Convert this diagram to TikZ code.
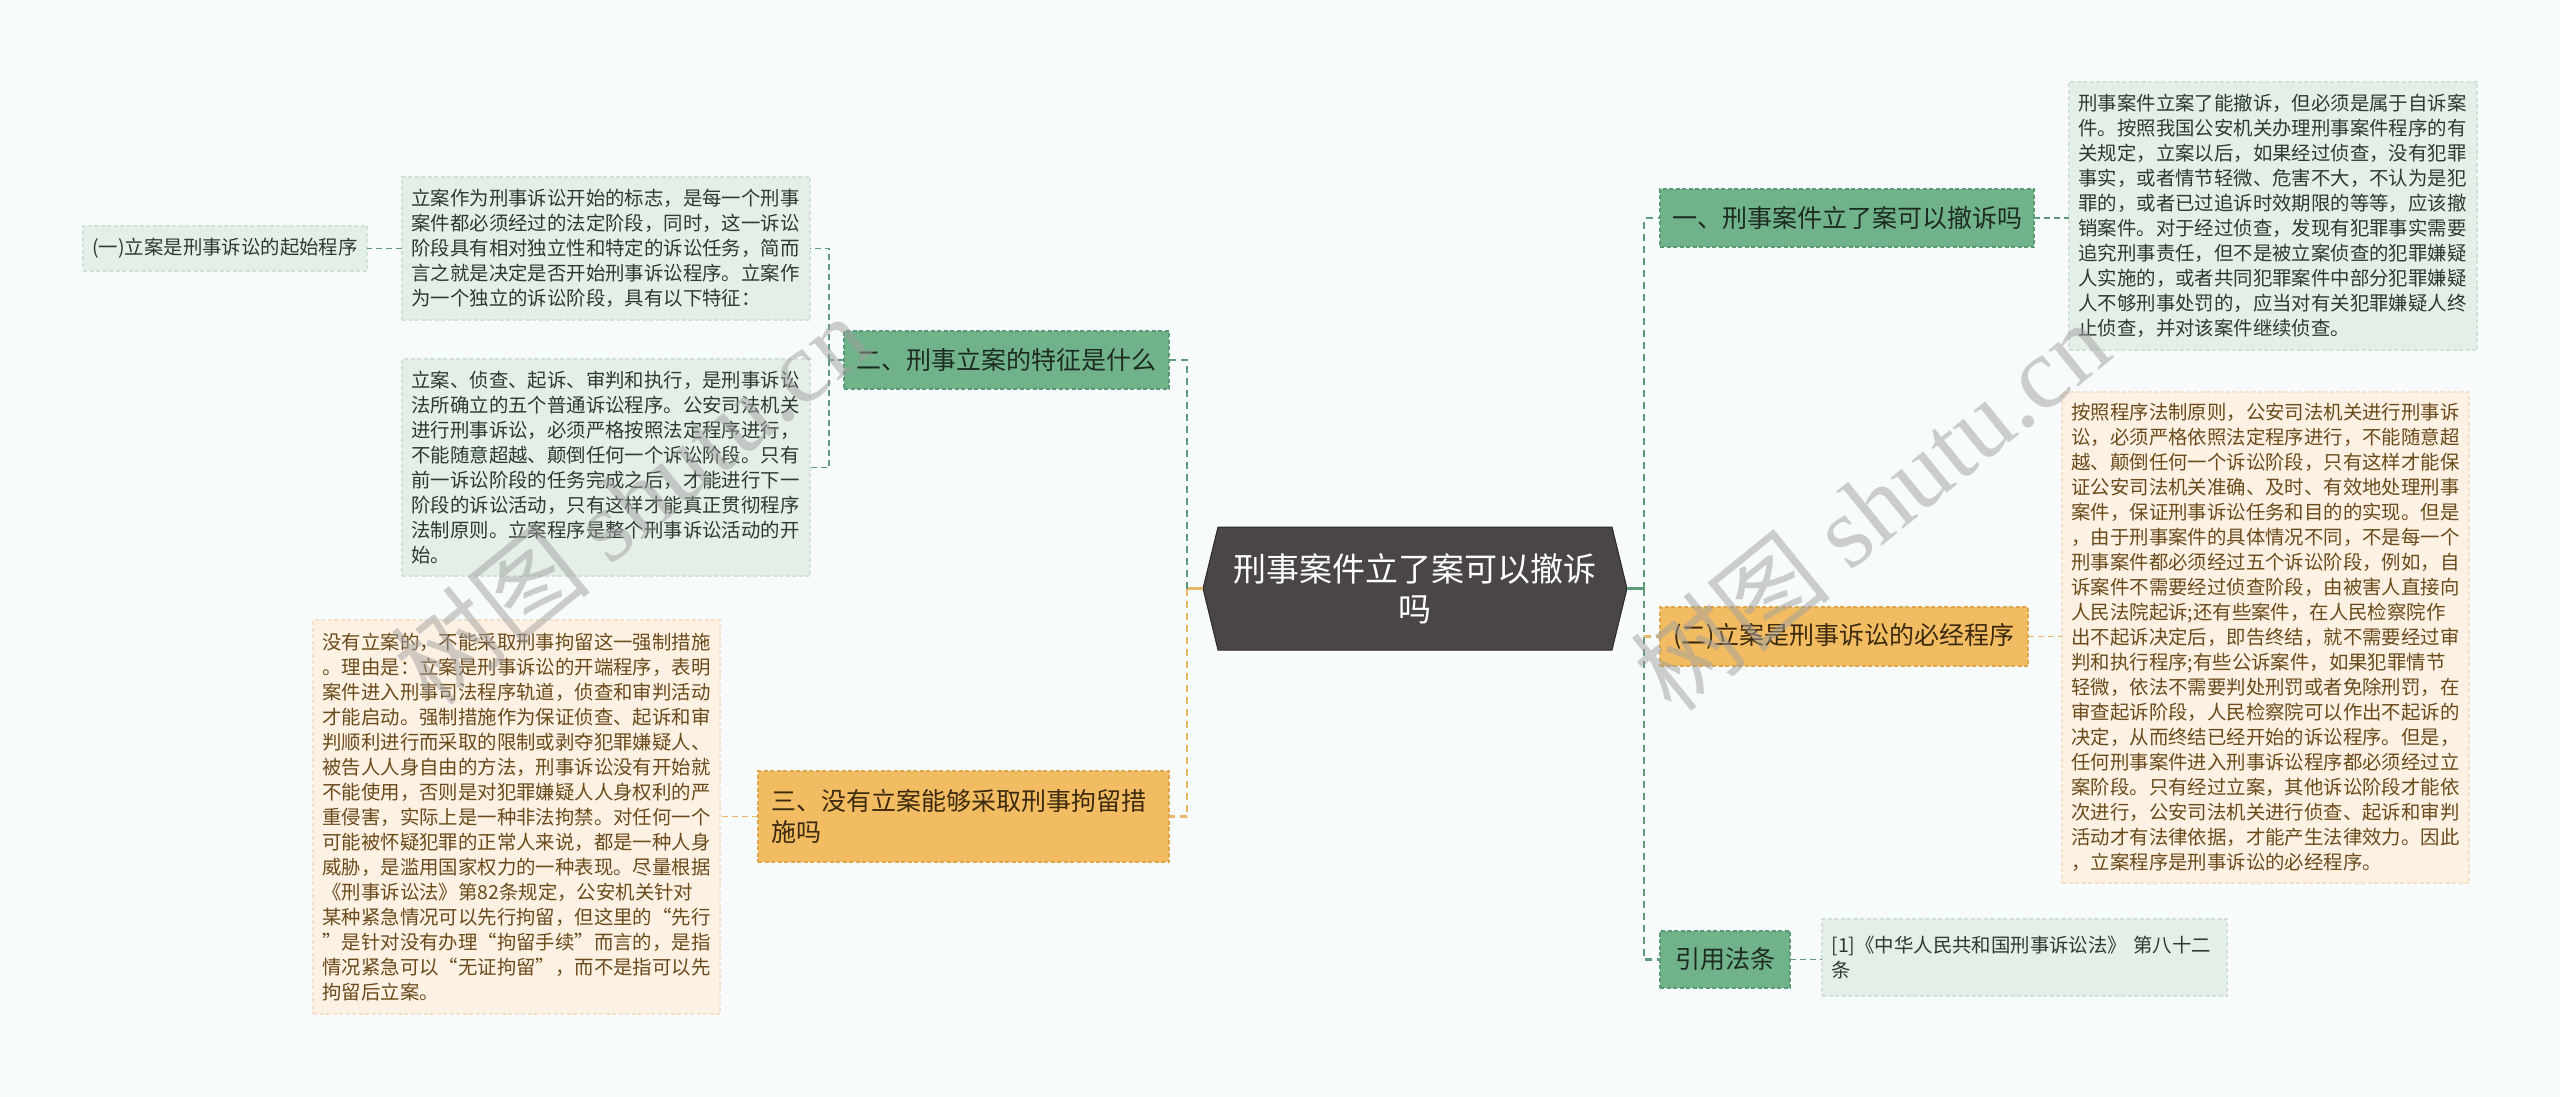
\documentclass[tikz,border=0pt]{standalone}
\usepackage{fontspec}
\setmainfont{Noto Sans CJK SC}
\newfontfamily\wmfont{Liberation Serif}
\usetikzlibrary{calc}
\pgfdeclarelayer{page}
\pgfdeclarelayer{back}
\pgfdeclarelayer{front}
\pgfsetlayers{page,back,main,front}
\definecolor{pagecol}{HTML}{F7FBFB}
\definecolor{gfill}{HTML}{70B28A}
\definecolor{gline}{HTML}{5A9A74}
\definecolor{gtext}{HTML}{1E2B22}
\definecolor{ofill}{HTML}{F2BC62}
\definecolor{oline}{HTML}{E0A54A}
\definecolor{otext}{HTML}{3B2A0E}
\definecolor{gnfill}{HTML}{E3EFE7}
\definecolor{gnline}{HTML}{CFE2D5}
\definecolor{gntext}{HTML}{2D3A30}
\definecolor{onfill}{HTML}{FDF1E4}
\definecolor{online}{HTML}{F4E0C8}
\definecolor{ontext}{HTML}{6B4A1A}
\definecolor{rootfill}{HTML}{4A4546}
\definecolor{rootline}{HTML}{2E2A2B}
\definecolor{gcon}{HTML}{5E9B78}
\definecolor{ocon}{HTML}{E9B667}
\definecolor{wmcol}{HTML}{A0A0A0}
\begin{document}
\begin{tikzpicture}[x=1pt,y=-1pt,
  every node/.style={inner sep=0pt, outer sep=0pt},
  gmain/.style={fill=gfill, draw=gline, line width=1.3pt, dash pattern=on 4pt off 2.5pt, text=gtext, font=\fontsize{25}{31}\selectfont, align=center},
  omain/.style={fill=ofill, draw=oline, line width=1.3pt, dash pattern=on 4pt off 2.5pt, text=otext, font=\fontsize{25}{31}\selectfont, align=center},
  gnote/.style={fill=gnfill, draw=gnline, line width=1.2pt, dash pattern=on 4pt off 2.5pt, text=gntext, font=\fontsize{19.4}{25}\selectfont, align=left, inner xsep=9.5pt},
  onote/.style={fill=onfill, draw=online, line width=1.2pt, dash pattern=on 4pt off 2.5pt, text=ontext, font=\fontsize{19.4}{25}\selectfont, align=left, inner xsep=9.5pt},
  roottext/.style={text=white, font=\fontsize{33}{40}\selectfont, align=center, minimum width=424pt, minimum height=123pt},
  gcn/.style={draw=gcon, line width=2.4pt, dash pattern=on 7pt off 5pt},
  ocn/.style={draw=ocon, line width=2.4pt, dash pattern=on 7pt off 5pt},
  gcnthin/.style={draw=gcon, line width=1.6pt, dash pattern=on 6pt off 4pt},
  ocnthin/.style={draw=ocon, line width=1.6pt, dash pattern=on 6pt off 4pt},
  gstub/.style={draw=gcon, line width=2.4pt},
  ostub/.style={draw=ocon, line width=2.4pt},
  wm/.style={text=wmcol, opacity=0.5, font=\fontsize{102}{104}\selectfont}
]
\begin{pgfonlayer}{page}
\fill[pagecol] (0,0) rectangle (2560,1097);
\end{pgfonlayer}
\useasboundingbox (0,0) rectangle (2560,1097);

% root
\node[roottext] (root) at (1415,588.5) {刑事案件立了案可以撤诉\\吗};
\begin{pgfonlayer}{back}
\filldraw[fill=rootfill, draw=rootline, line width=1pt] ([xshift=15pt]root.north west) -- ([xshift=-15pt]root.north east) -- (root.east) -- ([xshift=-15pt]root.south east) -- ([xshift=15pt]root.south west) -- (root.west) -- cycle;
\end{pgfonlayer}

% left main boxes
\node[gmain, minimum width=325pt, minimum height=58pt] (B2) at (1006.5,360) {二、刑事立案的特征是什么};
\node[omain, align=left, text width=385pt, inner xsep=13pt, minimum height=91pt] (B3) at (963.5,816.5) {三、没有立案能够采取刑事拘留措\\施吗};

% left notes
\node[gnote, inner xsep=0pt, minimum width=284pt, minimum height=45pt, align=center] (L0) at (225,248.5) {(一)立案是刑事诉讼的起始程序};
\node[gnote, text width=389pt, minimum height=143pt] (L1) at (606,248.5) {立案作为刑事诉讼开始的标志，是每一个刑事\\案件都必须经过的法定阶段，同时，这一诉讼\\阶段具有相对独立性和特定的诉讼任务，简而\\言之就是决定是否开始刑事诉讼程序。立案作\\为一个独立的诉讼阶段，具有以下特征：};
\node[gnote, text width=389pt, minimum height=217pt] (L2) at (606,467.5) {立案、侦查、起诉、审判和执行，是刑事诉讼\\法所确立的五个普通诉讼程序。公安司法机关\\进行刑事诉讼，必须严格按照法定程序进行，\\不能随意超越、颠倒任何一个诉讼阶段。只有\\前一诉讼阶段的任务完成之后，才能进行下一\\阶段的诉讼活动，只有这样才能真正贯彻程序\\法制原则。立案程序是整个刑事诉讼活动的开\\始。};
\node[onote, text width=388pt, minimum height=394pt] (L3) at (516.5,817) {没有立案的，不能采取刑事拘留这一强制措施\\。理由是：立案是刑事诉讼的开端程序，表明\\案件进入刑事司法程序轨道，侦查和审判活动\\才能启动。强制措施作为保证侦查、起诉和审\\判顺利进行而采取的限制或剥夺犯罪嫌疑人、\\被告人人身自由的方法，刑事诉讼没有开始就\\不能使用，否则是对犯罪嫌疑人人身权利的严\\重侵害，实际上是一种非法拘禁。对任何一个\\可能被怀疑犯罪的正常人来说，都是一种人身\\威胁，是滥用国家权力的一种表现。尽量根据\\《刑事诉讼法》第82条规定，公安机关针对\\某种紧急情况可以先行拘留，但这里的“先行\\”是针对没有办理“拘留手续”而言的，是指\\情况紧急可以“无证拘留”，而不是指可以先\\拘留后立案。};

% right main boxes
\node[gmain, minimum width=374pt, minimum height=58pt] (R1) at (1847,218) {一、刑事案件立了案可以撤诉吗};
\node[omain, minimum width=368pt, minimum height=59pt] (R2) at (1844,636.5) {(二)立案是刑事诉讼的必经程序};
\node[gmain, minimum width=130pt, minimum height=57pt] (R3) at (1725,959.5) {引用法条};

% right notes
\node[gnote, text width=389pt, minimum height=268pt] (T1) at (2273,216) {刑事案件立案了能撤诉，但必须是属于自诉案\\件。按照我国公安机关办理刑事案件程序的有\\关规定，立案以后，如果经过侦查，没有犯罪\\事实，或者情节轻微、危害不大，不认为是犯\\罪的，或者已过追诉时效期限的等等，应该撤\\销案件。对于经过侦查，发现有犯罪事实需要\\追究刑事责任，但不是被立案侦查的犯罪嫌疑\\人实施的，或者共同犯罪案件中部分犯罪嫌疑\\人不够刑事处罚的，应当对有关犯罪嫌疑人终\\止侦查，并对该案件继续侦查。};
\node[onote, text width=388pt, minimum height=491pt] (T2) at (2265.5,637.5) {按照程序法制原则，公安司法机关进行刑事诉\\讼，必须严格依照法定程序进行，不能随意超\\越、颠倒任何一个诉讼阶段，只有这样才能保\\证公安司法机关准确、及时、有效地处理刑事\\案件，保证刑事诉讼任务和目的的实现。但是\\，由于刑事案件的具体情况不同，不是每一个\\刑事案件都必须经过五个诉讼阶段，例如，自\\诉案件不需要经过侦查阶段，由被害人直接向\\人民法院起诉;还有些案件，在人民检察院作\\出不起诉决定后，即告终结，就不需要经过审\\判和执行程序;有些公诉案件，如果犯罪情节\\轻微，依法不需要判处刑罚或者免除刑罚，在\\审查起诉阶段，人民检察院可以作出不起诉的\\决定，从而终结已经开始的诉讼程序。但是，\\任何刑事案件进入刑事诉讼程序都必须经过立\\案阶段。只有经过立案，其他诉讼阶段才能依\\次进行，公安司法机关进行侦查、起诉和审判\\活动才有法律依据，才能产生法律效力。因此\\，立案程序是刑事诉讼的必经程序。};
\node[gnote, text width=386pt, minimum height=77pt] (T3) at (2024.5,957.5) {[1]《中华人民共和国刑事诉讼法》 第八十二\\条};

% junctions
\coordinate (lj) at (1187,588.5);
\coordinate (rj) at (1644,588.5);
\coordinate (l2j) at (829,360);

% left connectors
\draw[ostub] (root.west) -- (lj);
\draw[ocn] (lj) |- (B3.east);
\draw[gcn] (lj) |- (B2.east);
\draw[gcnthin] (B2.west) -- (l2j);
\draw[gcnthin] (l2j) |- (L1.east);
\draw[gcnthin] (l2j) |- (L2.east);
\draw[gcnthin] (L1.west) -- (L0.east);
\draw[ocnthin] (B3.west) -- (B3.west -| L3.east);

% right connectors
\draw[gstub] (root.east) -- (rj);
\draw[ocn] (rj) |- (R2.west);
\draw[gcn] (rj) |- (R1.west);
\draw[gcn] (rj) |- (R3.west);
\draw[gcnthin] (R1.east) -- (R1.east -| T1.west);
\draw[ocnthin] (R2.east) -- (R2.east -| T2.west);
\draw[gcnthin] (R3.east) -- (R3.east -| T3.west);

% watermarks
\begin{pgfonlayer}{front}
\node[wm, rotate=39] (wm1) at (630,500) {树图 {\wmfont shutu.cn}};
\node[wm, rotate=39] (wm2) at (1870,506) {树图 {\wmfont shutu.cn}};
\end{pgfonlayer}
\end{tikzpicture}
\end{document}
